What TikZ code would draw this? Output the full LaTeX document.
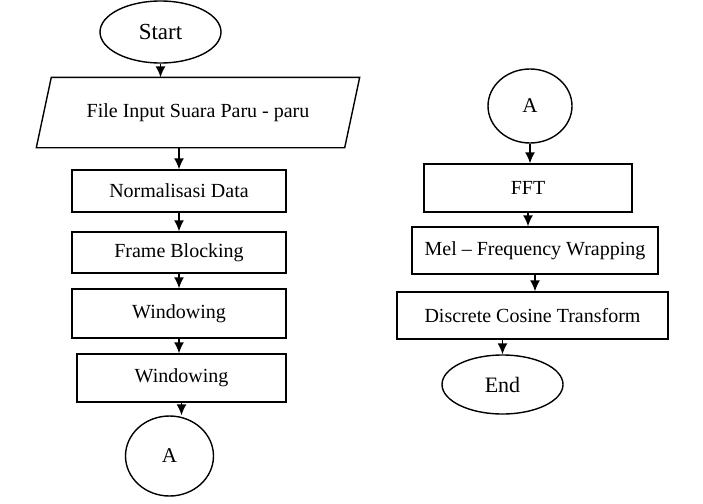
\documentclass[tikz,border=0pt]{standalone}
\usepackage{fontspec}
\setmainfont{Liberation Serif}
\usetikzlibrary{shapes.geometric,arrows.meta}
\tikzset{
  flow/.style = {
    draw, line width=1.4pt, inner sep=1pt,
    font=\fontsize{20}{24}\selectfont
  },
  box/.style = {flow, rectangle},
  term/.style = {flow, ellipse},
  link/.style = {->, line width=1.4pt}
}
\tikzset{>={Latex[length=11pt,width=10pt]}}

\begin{document}
\begin{tikzpicture}[x=1pt,y=-1pt]
  \useasboundingbox (0,0) rectangle (703,503);
  % left column
  \node[term, minimum width=121, minimum height=62, font=\fontsize{23}{27}\selectfont] (st) at (160.5,32) {Start};
  \node[flow, draw=none, minimum width=307, minimum height=69] (in) at (198,112.5) {File Input Suara Paru - paru};
  \draw[line width=1.4pt] ([xshift=-7.5pt]in.south west) -- ([xshift=7.5pt]in.north west)
    -- ([xshift=7.5pt]in.north east) -- ([xshift=-7.5pt]in.south east) -- cycle;
  \node[box, minimum width=214, minimum height=42] (nrm) at (179,191) {Normalisasi Data};
  \node[box, minimum width=214, minimum height=41] (frm) at (179,252.5) {Frame Blocking};
  \node[box, minimum width=214, minimum height=49] (win1) at (179,313.5) {Windowing};
  \node[box, minimum width=209, minimum height=48] (win2) at (181.5,378) {Windowing};
  \node[term, minimum width=88, minimum height=80, font=\fontsize{21}{25}\selectfont] (ca) at (169.5,456) {A};
  % right column
  \node[term, minimum width=84, minimum height=74, font=\fontsize{21}{25}\selectfont] (cb) at (530,106) {A};
  \node[box, minimum width=208, minimum height=48] (fft) at (528,188) {FFT};
  \node[box, minimum width=246, minimum height=47] (mel) at (535,250.5) {Mel -- Frequency Wrapping};
  \node[box, minimum width=271, minimum height=47] (dct) at (532.5,315.5) {Discrete Cosine Transform};
  \node[term, minimum width=121, minimum height=59, font=\fontsize{22}{26}\selectfont] (en) at (502.5,384.5) {End};
  % connectors
  \foreach \a/\b in {st/in, nrm/frm, frm/win1, win1/win2, win2/ca, cb/fft, fft/mel, mel/dct} {%
    \draw[link] (\a.south) -- (\a.south |- \b.north);
  }
  \foreach \a/\b in {in/nrm, dct/en} {%
    \draw[link] (\b.north |- \a.south) -- (\b.north);
  }
\end{tikzpicture}
\end{document}
